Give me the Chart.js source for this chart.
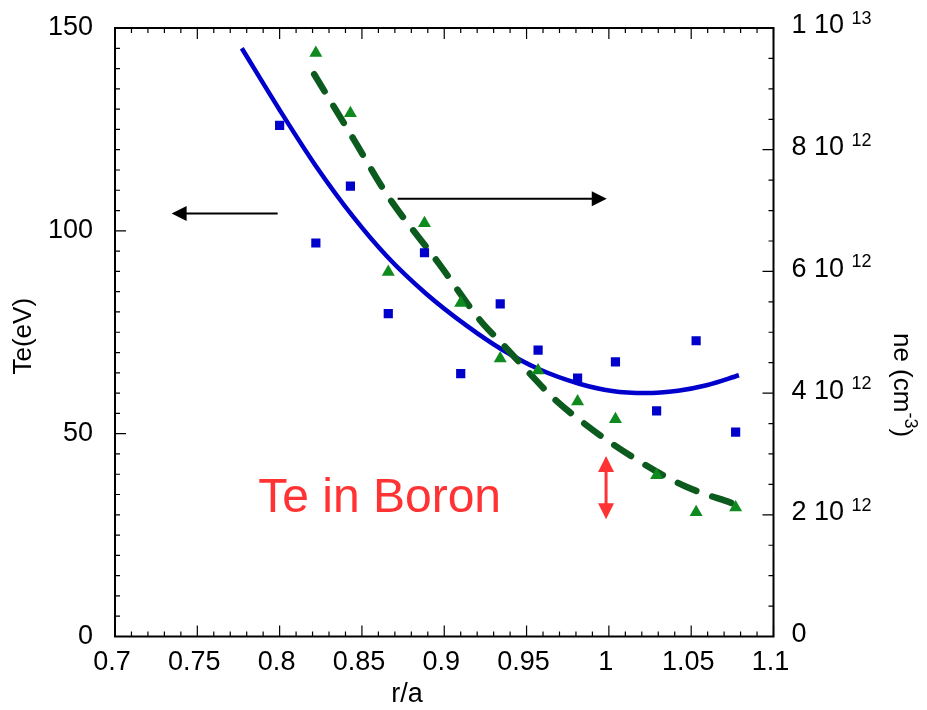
<!DOCTYPE html>
<html>
<head>
<meta charset="utf-8">
<script src="https://cdn.jsdelivr.net/npm/chart.js@4.4.1/dist/chart.umd.min.js"></script>
<style>
  html, body { margin: 0; padding: 0; background: #fff; }
  #wrap { width: 927px; height: 710px; }
</style>
</head>
<body>
<div id="wrap"><canvas id="teChart" width="927" height="710"></canvas></div>
<script>
// ---- data ----
// Te measurements (left axis, eV)
const teR = [0.800, 0.822, 0.843, 0.866, 0.888, 0.910, 0.934, 0.957, 0.981, 1.004, 1.029, 1.053, 1.077];
const teVals = [126, 97, 111, 79.6, 94.6, 64.8, 82, 70.6, 63.7, 67.7, 55.6, 72.9, 50.4];

// ne measurements (right axis, cm^-3)
const neR = [0.822, 0.843, 0.866, 0.888, 0.910, 0.934, 0.957, 0.981, 1.004, 1.029, 1.053, 1.077];
const neVals = [9.59e12, 8.60e12, 5.99e12, 6.79e12, 5.48e12, 4.57e12, 4.37e12, 3.86e12, 3.57e12, 2.65e12, 2.04e12, 2.12e12];

// fitted curves
const teFitR = [0.777, 0.800, 0.822, 0.845, 0.865, 0.889, 0.914, 0.934, 0.957, 0.982, 1.002, 1.022, 1.042, 1.060, 1.079];
const teFitVals = [145, 129.8, 116.0, 103.3, 93.8, 84.5, 76.5, 71.0, 66.0, 62.3, 60.5, 60.0, 60.6, 62.0, 64.4];
const neFitR = [0.821, 0.845, 0.865, 0.897, 0.922, 0.936, 0.951, 0.967, 0.986, 1.003, 1.029, 1.047, 1.076];
const neFitVals = [9.24e12, 8.17e12, 7.27e12, 6.12e12, 5.19e12, 4.79e12, 4.35e12, 3.90e12, 3.48e12, 3.15e12, 2.71e12, 2.46e12, 2.18e12];

// tick labels
const xTickVals = [0.7, 0.75, 0.8, 0.85, 0.9, 0.95, 1, 1.05, 1.1];
const xTickLabels = ['0.7', '0.75', '0.8', '0.85', '0.9', '0.95', '1', '1.05', '1.1'];
const teTickVals = [0, 50, 100, 150];
const neTickVals = [0, 2e12, 4e12, 6e12, 8e12, 1e13];
const neTickMant = ['0', '2 10', '4 10', '6 10', '8 10', '1 10'];
const neTickExp = ['', '12', '12', '12', '12', '13'];

const FONT = "'Liberation Sans', Arial, sans-serif";
Chart.defaults.font.family = FONT;
Chart.defaults.color = '#000';

function pts(xs, ys) { return xs.map((v, i) => ({ x: v, y: ys[i] })); }

function arrowHead(ctx, x1, y1, x2, y2, len, half) {
    const ang = Math.atan2(y2 - y1, x2 - x1);
    ctx.beginPath();
    ctx.moveTo(x2, y2);
    ctx.lineTo(x2 - len * Math.cos(ang) + half * Math.sin(ang), y2 - len * Math.sin(ang) - half * Math.cos(ang));
    ctx.lineTo(x2 - len * Math.cos(ang) - half * Math.sin(ang), y2 - len * Math.sin(ang) + half * Math.cos(ang));
    ctx.closePath();
    ctx.fill();
}

function arrow(ctx, x1, y1, x2, y2, color, width, len, half, both) {
    const ang = Math.atan2(y2 - y1, x2 - x1);
    ctx.strokeStyle = color; ctx.fillStyle = color; ctx.lineWidth = width;
    ctx.beginPath();
    ctx.moveTo(both ? x1 + len * 0.8 * Math.cos(ang) : x1, both ? y1 + len * 0.8 * Math.sin(ang) : y1);
    ctx.lineTo(x2 - len * 0.8 * Math.cos(ang), y2 - len * 0.8 * Math.sin(ang));
    ctx.stroke();
    arrowHead(ctx, x1, y1, x2, y2, len, half);
    if (both) arrowHead(ctx, x2, y2, x1, y1, len, half);
}

// frame, inward ticks, right axis labels, titles and annotations
const overlay = {
    id: 'overlay',
    afterDraw(chart) {
        const { ctx, chartArea: a, scales: { x, y, y2 } } = chart;
        ctx.save();

        ctx.strokeStyle = '#000';
        ctx.lineWidth = 1.2;
        ctx.beginPath();
        for (let i = 0; i <= 40; i++) {
            const px = x.getPixelForValue(0.7 + i * 0.01);
            const len = i % 5 === 0 ? 11 : 5;
            ctx.moveTo(px, a.bottom); ctx.lineTo(px, a.bottom - len);
            ctx.moveTo(px, a.top); ctx.lineTo(px, a.top + len);
        }
        for (let i = 0; i <= 30; i++) {
            const py = y.getPixelForValue(i * 5);
            ctx.moveTo(a.left, py); ctx.lineTo(a.left + (i % 10 === 0 ? 11 : 5), py);
        }
        for (let i = 0; i <= 20; i++) {
            const py = y2.getPixelForValue(i * 5e11);
            ctx.moveTo(a.right, py); ctx.lineTo(a.right - (i % 4 === 0 ? 11 : 5), py);
        }
        ctx.stroke();

        ctx.lineWidth = 2;
        ctx.strokeRect(a.left, a.top, a.right - a.left, a.bottom - a.top);

        // right axis labels with exponent
        ctx.fillStyle = '#000';
        ctx.textAlign = 'left';
        neTickVals.forEach((v, i) => {
            const py = y2.getPixelForValue(v) - 2;
            ctx.font = '27px ' + FONT;
            ctx.textBaseline = 'middle';
            ctx.fillText(neTickMant[i], a.right + 18, py);
            if (neTickExp[i]) {
                const w = ctx.measureText(neTickMant[i] + ' ').width;
                ctx.font = '18px ' + FONT;
                ctx.textBaseline = 'alphabetic';
                ctx.fillText(neTickExp[i], a.right + 18 + w, py - 2);
            }
        });

        // axis titles
        ctx.font = '27px ' + FONT;
        ctx.textAlign = 'center';
        ctx.textBaseline = 'alphabetic';
        ctx.fillText('r/a', 407, 702);

        ctx.save();
        ctx.translate(31, (a.top + a.bottom) / 2 + 4);
        ctx.rotate(-Math.PI / 2);
        ctx.font = '26px ' + FONT;
        ctx.fillText('Te(eV)', 0, 0);
        ctx.restore();

        ctx.save();
        ctx.translate(894, 385);
        ctx.rotate(Math.PI / 2);
        ctx.font = '26px ' + FONT;
        const t1 = 'ne (cm', t2 = '-3', t3 = ')';
        const w1 = ctx.measureText(t1).width, w3 = ctx.measureText(t3).width;
        ctx.font = '18px ' + FONT;
        const w2 = ctx.measureText(t2).width;
        let u = -(w1 + w2 + w3) / 2;
        ctx.textAlign = 'left';
        ctx.font = '26px ' + FONT;
        ctx.fillText(t1, u, 0); u += w1;
        ctx.font = '18px ' + FONT;
        ctx.fillText(t2, u, -11); u += w2;
        ctx.font = '26px ' + FONT;
        ctx.fillText(t3, u, 0);
        ctx.restore();

        // annotations
        arrow(ctx, x.getPixelForValue(0.7988), y.getPixelForValue(104.3),
              x.getPixelForValue(0.7344), y.getPixelForValue(104.3), '#000', 2, 15, 7.5, false);
        arrow(ctx, x.getPixelForValue(0.8717), y.getPixelForValue(107.9),
              x.getPixelForValue(0.9987), y.getPixelForValue(107.9), '#000', 2, 15, 7.5, false);
        arrow(ctx, x.getPixelForValue(0.9983), y.getPixelForValue(44.5),
              x.getPixelForValue(0.9983), y.getPixelForValue(28.9), '#ff3333', 3, 16, 8, true);

        ctx.fillStyle = '#ff3333';
        ctx.font = '48px ' + FONT;
        ctx.textAlign = 'left';
        ctx.textBaseline = 'alphabetic';
        ctx.fillText('Te in Boron', x.getPixelForValue(0.787), y.getPixelForValue(30.8));

        ctx.restore();
    }
};

function noPad(s) {
    s.paddingTop = 0; s.paddingBottom = 0; s.paddingLeft = 0; s.paddingRight = 0;
}

new Chart(document.getElementById('teChart').getContext('2d'), {
    type: 'scatter',
    data: {
        datasets: [
            {
                label: 'Te',
                data: pts(teR, teVals),
                yAxisID: 'y',
                pointStyle: 'rect',
                pointRadius: 6.5,
                pointBackgroundColor: '#0000cd',
                pointBorderWidth: 0,
                order: 0
            },
            {
                label: 'ne',
                data: pts(neR, neVals),
                yAxisID: 'y2',
                pointStyle: 'triangle',
                pointRadius: 7.5,
                pointBackgroundColor: '#0e8a1e',
                pointBorderWidth: 0,
                order: 1
            },
            {
                label: 'ne fit',
                type: 'line',
                data: pts(neFitR, neFitVals),
                yAxisID: 'y2',
                borderColor: '#0b5a1e',
                borderWidth: 6.5,
                borderDash: [20, 17],
                borderCapStyle: 'round',
                pointRadius: 0,
                cubicInterpolationMode: 'monotone',
                fill: false,
                order: 2
            },
            {
                label: 'Te fit',
                type: 'line',
                data: pts(teFitR, teFitVals),
                yAxisID: 'y',
                borderColor: '#0000cd',
                borderWidth: 4.5,
                pointRadius: 0,
                cubicInterpolationMode: 'monotone',
                fill: false,
                order: 3
            }
        ]
    },
    options: {
        responsive: false,
        animation: false,
        devicePixelRatio: 1,
        layout: { padding: { top: 28, left: 0, right: 0, bottom: 0 } },
        plugins: { legend: { display: false }, tooltip: { enabled: false } },
        scales: {
            x: {
                type: 'linear',
                min: 0.7, max: 1.1,
                grid: { display: false, drawTicks: false },
                border: { display: false },
                afterBuildTicks: (s) => { s.ticks = xTickVals.map(v => ({ value: v })); },
                afterFit: (s) => { s.height = 73.5; noPad(s); },
                ticks: {
                    font: { size: 27 },
                    padding: 10,
                    maxRotation: 0,
                    autoSkip: false,
                    labelOffset: -3,
                    callback: (v, i) => xTickLabels[i]
                }
            },
            y: {
                type: 'linear',
                position: 'left',
                min: 0, max: 150,
                grid: { display: false, drawTicks: false },
                border: { display: false },
                afterBuildTicks: (s) => { s.ticks = teTickVals.map(v => ({ value: v })); },
                afterFit: (s) => { s.width = 115; noPad(s); },
                ticks: { font: { size: 27 }, padding: 22 }
            },
            y2: {
                type: 'linear',
                position: 'right',
                min: 0, max: 1e13,
                grid: { display: false, drawTicks: false },
                border: { display: false },
                afterFit: (s) => { s.width = 153.5; noPad(s); },
                ticks: { display: false }
            }
        }
    },
    plugins: [overlay]
});
</script>
</body>
</html>
